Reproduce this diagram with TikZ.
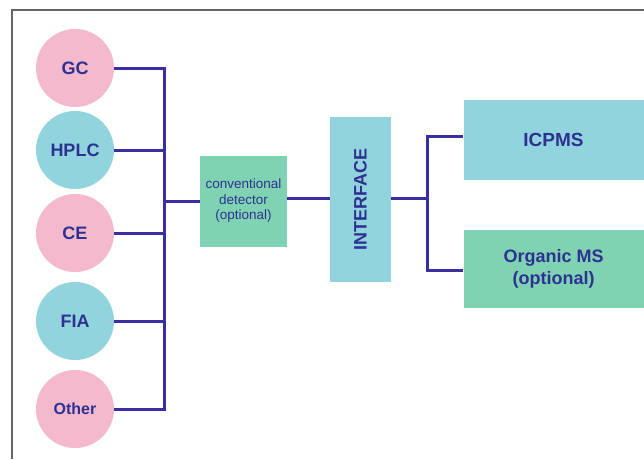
\documentclass[tikz,border=0pt]{standalone}
\usepackage{fontspec}
\setmainfont{Liberation Sans}
\usetikzlibrary{positioning}
\definecolor{pinkc}{HTML}{F4B9CD}
\definecolor{cyanc}{HTML}{92D4DD}
\definecolor{greenc}{HTML}{80D3B2}
\definecolor{inkc}{HTML}{2E3192}
\definecolor{linec}{HTML}{3A2FA2}
\begin{document}
\begin{tikzpicture}[x=1pt,y=-1pt,
  src/.style={circle,minimum size=78pt,inner sep=0pt,text=inkc,font=\fontsize{18}{18}\selectfont\bfseries},
  box/.style={rectangle,inner sep=0pt,text=inkc,align=center},
  link/.style={draw=linec,line width=3pt}]
\useasboundingbox (0,0) rectangle (644,459);
% frame
\draw[gray!80!black,line width=1.5pt] (12,459)--(12,10)--(644,10);
% separation techniques
\node[src,fill=pinkc] (gc) at (75,68) {GC};
\node[src,fill=cyanc] (hplc) at (75,150) {HPLC};
\node[src,fill=pinkc] (ce) at (75,233) {CE};
\node[src,fill=cyanc] (fia) at (75,321) {FIA};
\node[src,fill=pinkc,font=\fontsize{16}{16}\selectfont\bfseries] (other) at (75,409) {Other};
% detector and interface
\node[box,fill=greenc,minimum width=87pt,minimum height=91pt,font=\fontsize{13.5}{15.5}\selectfont] (det) at (243.5,201) {conventional\\detector\\(optional)};
\node[box,fill=cyanc,minimum width=61pt,minimum height=165pt] (iface) at (360.5,199.5) {};
\node[rotate=90,text=inkc,font=\fontsize{18}{18}\selectfont\bfseries] (ifacelbl) at (iface) {INTERFACE};
% mass spectrometers
\node[box,fill=cyanc,minimum width=180pt,minimum height=80pt,font=\fontsize{19}{19}\selectfont\bfseries] (icp) at (553.5,140) {ICPMS};
\node[box,fill=greenc,minimum width=180pt,minimum height=78pt,font=\fontsize{18}{22}\selectfont\bfseries] (org) at (553.5,269) {Organic MS\\(optional)};
% connectors
\coordinate (j1) at (164,201);
\draw[link] (gc.east) -| (j1) |- (other.east);
\foreach \n in {hplc,ce,fia}
  \draw[link] (\n.east) -- (\n.east -| j1);
\draw[link] (j1) -- (det.west);
\draw[link] (det.east |- 0,198) -- (iface.west |- 0,198);
\coordinate (j2) at (427,198);
\draw[link] (iface.east |- j2) -- (j2);
\draw[link] (icp.west |- 0,136) -| (j2) |- (org.west |- 0,270);
\end{tikzpicture}
\end{document}
